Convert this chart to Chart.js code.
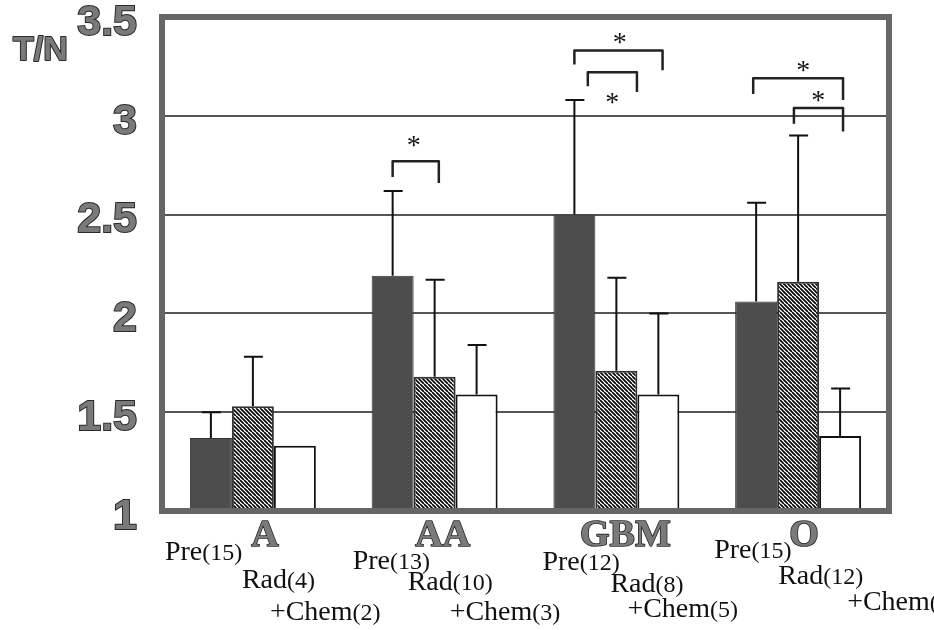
<!DOCTYPE html>
<html><head><meta charset="utf-8">
<script src="https://cdn.jsdelivr.net/npm/chart.js@4/dist/chart.umd.min.js"></script>
<style>html,body{margin:0;padding:0;background:#fff;} canvas{display:block;}</style>
</head><body>
<canvas id="c" width="934" height="630"></canvas>
<script>
// ---------- data ----------
const categories = ["A", "AA", "GBM", "O"];
const seriesNames = ["Pre", "Rad", "+Chem"];
const preCounts = [15, 13, 12, 15];
const radCounts = [4, 10, 8, 12];
const chemCounts = [2, 3, 5, 7];
const preMean = [1.37, 2.19, 2.50, 2.06];
const radMean = [1.53, 1.68, 1.71, 2.16];
const chemMean = [1.33, 1.59, 1.59, 1.38];
const preErrTop = [1.50, 2.62, 3.08, 2.56];
const radErrTop = [1.78, 2.17, 2.18, 2.90];
const chemErrTop = [null, 1.84, 2.00, 1.62];
const yTickLabels = ["1", "1.5", "2", "2.5", "3", "3.5"];
const yAxisTitle = "T/N";
// significance brackets (group index, from/to bar index within group, levels in T/N units)
const sigGroup = [1, 2, 2, 3, 3];
const sigFrom = [0, 0, 0.32, -0.07, 0.9];
const sigTo = [1.1, 2.1, 1.49, 2.07, 2.07];
const sigLevel = [2.77, 3.33, 3.22, 3.19, 3.04];
const sigLeftEnd = [2.69, 3.26, 3.15, 3.11, 2.96];
const sigRightEnd = [2.66, 3.23, 3.12, 3.08, 2.92];
const sigStarPos = [0.5, 1.08, 0.9, 1.12, 1.48];
const sigStarLevel = [2.87, 3.39, 3.09, 3.25, 3.10];

// ---------- layout / style ----------
const LAYOUT = {
  groupLabelDx: [12, 8, 9, 6],
  groupLabelBase: 546,
  subDx: [[-88, -11, 17], [-82, -27, 15], [-74, -6, 11], [-84, -20, 49]],
  subBase: [[560, 588, 620], [569, 590, 620], [570, 592, 617], [558, 584, 610]]
};

function hatchPattern() {
  const s = 8;
  const c = document.createElement('canvas');
  c.width = s; c.height = s;
  const g = c.getContext('2d');
  g.fillStyle = '#fff'; g.fillRect(0, 0, s, s);
  g.strokeStyle = '#000'; g.lineWidth = 1.6;
  for (const k of [-8, -4, 0, 4, 8]) {
    g.beginPath(); g.moveTo(k, 0); g.lineTo(k + s, s); g.stroke();
  }
  return g.createPattern(c, 'repeat');
}

const errTops = [preErrTop, radErrTop, chemErrTop];
const counts = [preCounts, radCounts, chemCounts];
const subWords = ["Pre", "Rad", "+Chem"];

const overlay = {
  id: 'overlay',
  afterDatasetsDraw(chart) {
    const ctx = chart.ctx;
    const a = chart.chartArea;
    const ys = chart.scales.y, xs = chart.scales.x;
    ctx.save();
    // frame
    ctx.strokeStyle = '#666';
    ctx.lineWidth = 6;
    ctx.strokeRect(a.left, a.top, a.right - a.left, a.bottom - a.top);

    // error bars
    ctx.strokeStyle = '#111';
    ctx.lineWidth = 2;
    errTops.forEach((arr, d) => {
      const meta = chart.getDatasetMeta(d);
      arr.forEach((v, j) => {
        if (v == null) return;
        const el = meta.data[j];
        const yt = ys.getPixelForValue(v);
        ctx.beginPath();
        ctx.moveTo(el.x, el.y);
        ctx.lineTo(el.x, yt);
        ctx.moveTo(el.x - 9, yt);
        ctx.lineTo(el.x + 10, yt);
        ctx.stroke();
      });
    });

    // significance brackets
    const m0 = chart.getDatasetMeta(0), m1 = chart.getDatasetMeta(1);
    ctx.strokeStyle = '#222';
    ctx.lineWidth = 2.5;
    ctx.lineJoin = 'round';
    ctx.fillStyle = '#111';
    ctx.font = '28px "Liberation Serif"';
    ctx.textAlign = 'center';
    ctx.textBaseline = 'alphabetic';
    const starM = ctx.measureText('*');
    const starMid = (starM.actualBoundingBoxAscent - starM.actualBoundingBoxDescent) / 2;
    sigGroup.forEach((g, k) => {
      const x0 = m0.data[g].x;
      const dx = m1.data[g].x - x0;
      const xl = x0 + sigFrom[k] * dx, xr = x0 + sigTo[k] * dx;
      const yl = ys.getPixelForValue(sigLevel[k]);
      ctx.beginPath();
      ctx.moveTo(xl, ys.getPixelForValue(sigLeftEnd[k]));
      ctx.lineTo(xl, yl);
      ctx.lineTo(xr, yl);
      ctx.lineTo(xr, ys.getPixelForValue(sigRightEnd[k]));
      ctx.stroke();
      ctx.fillText('*', x0 + sigStarPos[k] * dx, ys.getPixelForValue(sigStarLevel[k]) + starMid);
    });

    // axis title
    ctx.textAlign = 'left';
    ctx.font = 'bold 34px "Liberation Sans"';
    ctx.lineWidth = 2;
    ctx.strokeStyle = '#2a2a2a';
    ctx.fillStyle = '#7a7a7a';
    ctx.strokeText(yAxisTitle, 13, 60);
    ctx.fillText(yAxisTitle, 13, 60);

    // group labels
    ctx.textAlign = 'center';
    ctx.font = 'bold 38px "Liberation Serif"';
    ctx.lineWidth = 1.6;
    categories.forEach((c, j) => {
      const x = xs.getPixelForValue(j) + LAYOUT.groupLabelDx[j];
      ctx.strokeText(c, x, LAYOUT.groupLabelBase);
      ctx.fillText(c, x, LAYOUT.groupLabelBase);
    });

    // sub labels
    ctx.textAlign = 'left';
    ctx.fillStyle = '#111';
    categories.forEach((c, j) => {
      const cx = xs.getPixelForValue(j);
      for (let s = 0; s < 3; s++) {
        let x = cx + LAYOUT.subDx[j][s];
        const y = LAYOUT.subBase[j][s];
        ctx.font = '28px "Liberation Serif"';
        ctx.fillText(subWords[s], x, y);
        x += ctx.measureText(subWords[s]).width;
        ctx.font = '24px "Liberation Serif"';
        ctx.fillText('(' + counts[s][j] + ')', x, y);
      }
    });
    ctx.restore();
  }
};

new Chart(document.getElementById('c'), {
  type: 'bar',
  data: {
    labels: categories,
    datasets: [
      { label: seriesNames[0], data: preMean, backgroundColor: '#4d4d4d', borderColor: '#333', borderWidth: 1 },
      { label: seriesNames[1], data: radMean, backgroundColor: hatchPattern(), borderColor: '#333', borderWidth: 2 },
      { label: seriesNames[2], data: chemMean, backgroundColor: '#ffffff', borderColor: '#111', borderWidth: 2 }
    ]
  },
  options: {
    responsive: false,
    animation: false,
    devicePixelRatio: 1,
    layout: { padding: { top: 17, right: 45, left: 0, bottom: 0 } },
    plugins: { legend: { display: false }, tooltip: { enabled: false } },
    datasets: { bar: { barPercentage: 1, categoryPercentage: 0.693 } },
    scales: {
      x: {
        grid: { display: false },
        border: { display: false },
        ticks: { display: false },
        afterFit(s) { s.height = 630 - 511; s.paddingLeft = 0; s.paddingRight = 0; }
      },
      y: {
        min: 1, max: 3.5,
        grid: {
          color: c => (c.tick && (c.tick.value === 1 || c.tick.value === 3.5)) ? 'rgba(0,0,0,0)' : '#555',
          lineWidth: 2,
          drawTicks: false
        },
        border: { display: false },
        ticks: {
          stepSize: 0.5,
          padding: 25,
          labelOffset: 6,
          color: '#7a7a7a',
          textStrokeColor: '#2a2a2a',
          textStrokeWidth: 2,
          font: { family: 'Liberation Sans', weight: 'bold', size: 43 },
          callback: (v, i) => yTickLabels[i]
        },
        afterFit(s) { s.width = 162; s.paddingTop = 0; s.paddingBottom = 0; }
      }
    }
  },
  plugins: [overlay]
});
</script>
</body></html>
